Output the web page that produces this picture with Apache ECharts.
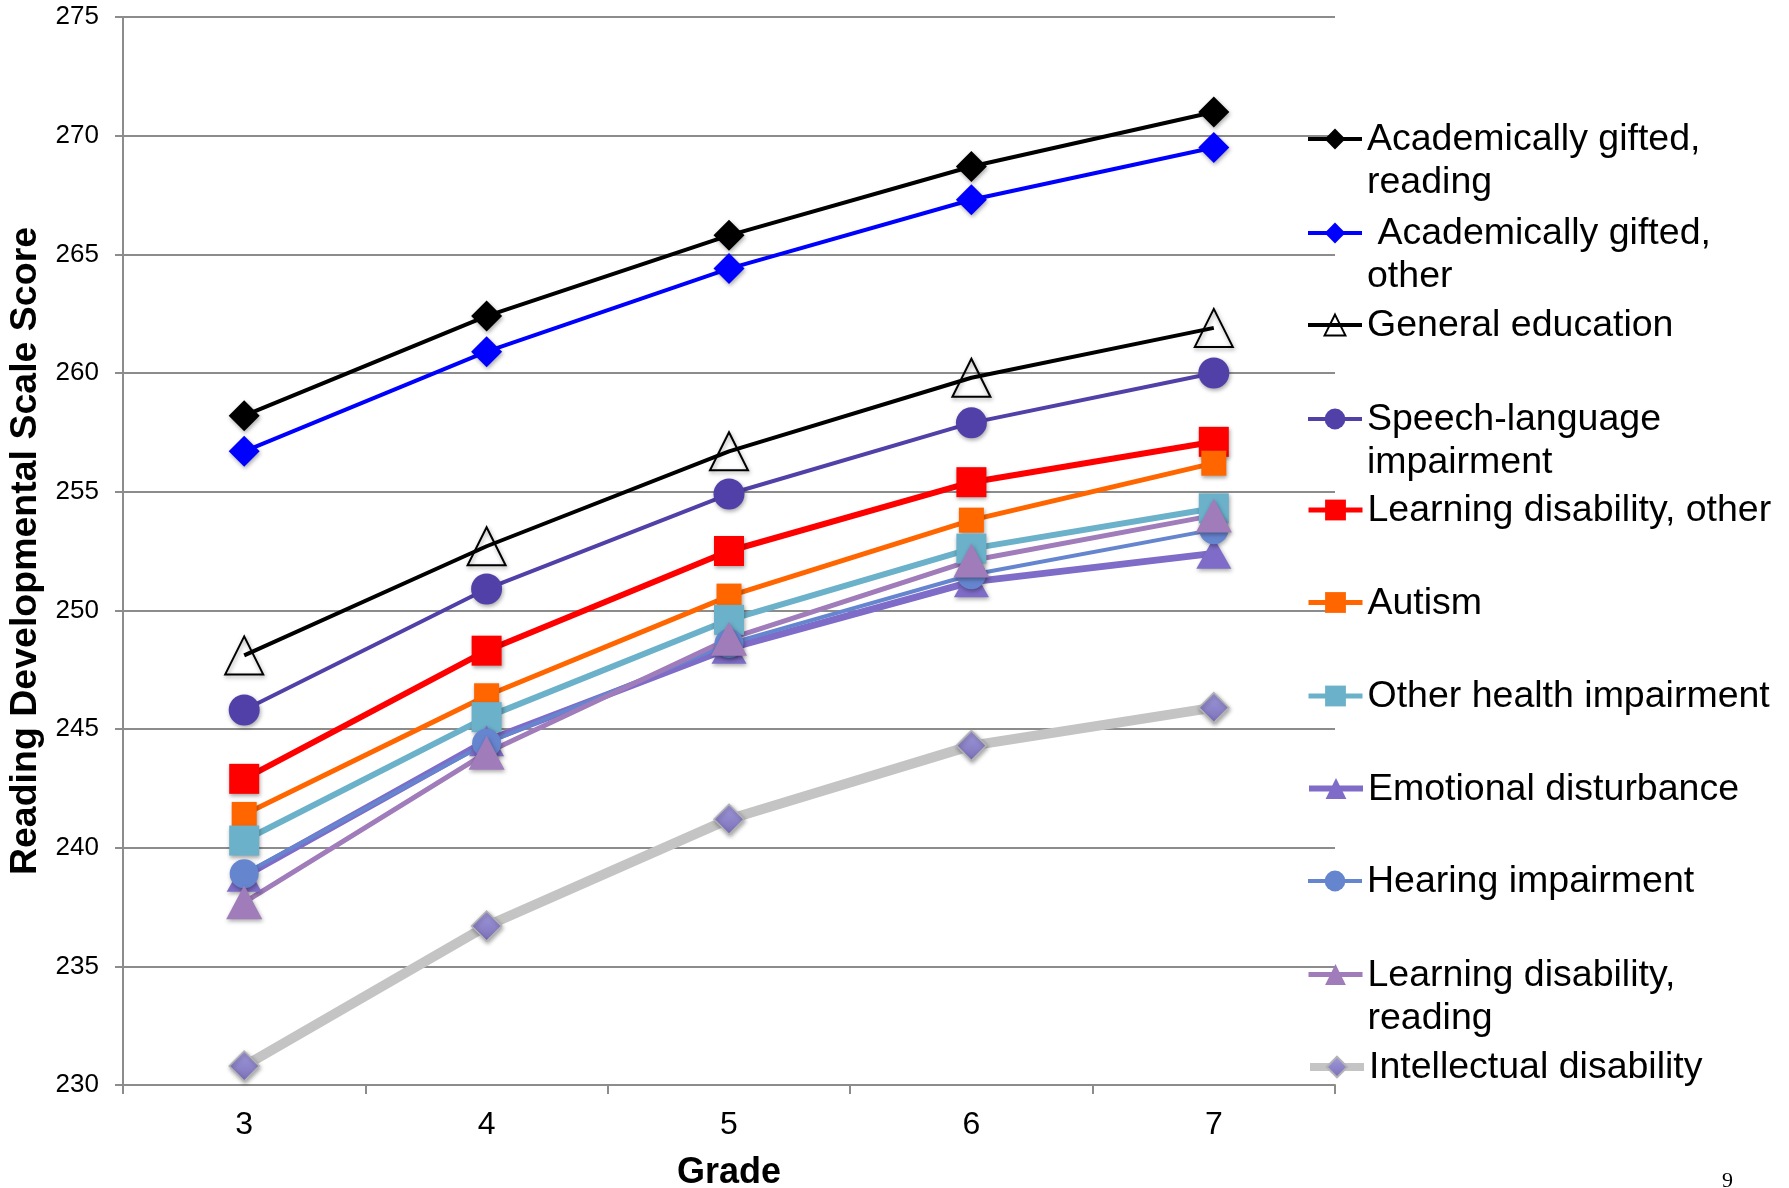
<!DOCTYPE html>
<html><head><meta charset="utf-8">
<script src="https://cdn.jsdelivr.net/npm/echarts@6/dist/echarts.min.js"></script>
<style>html,body{margin:0;padding:0;background:#fff}#c{width:1789px;height:1188px}</style>
</head><body><div id="c"></div>
<script>
// ---- data ----
const grades = ['3', '4', '5', '6', '7'];
const yTicks = [230, 235, 240, 245, 250, 255, 260, 265, 270, 275];
const seriesNames = [
  'Academically gifted,\nreading',
  ' Academically gifted,\nother',
  'General education',
  'Speech-language\nimpairment',
  'Learning disability, other',
  'Autism',
  'Other health impairment',
  'Emotional disturbance',
  'Hearing impairment',
  'Learning disability,\nreading',
  'Intellectual disability'
];
const giftedReading = [258.2, 262.4, 265.8, 268.7, 271.0];
const giftedOther   = [256.7, 260.9, 264.4, 267.3, 269.5];
const generalEd     = [248.1, 252.7, 256.7, 259.8, 261.9];
const speechLang    = [245.8, 250.9, 254.9, 257.9, 260.0];
const ldOther       = [242.9, 248.3, 252.5, 255.4, 257.1];
const autism        = [241.4, 246.4, 250.6, 253.8, 256.2];
const otherHealth   = [240.3, 245.5, 249.6, 252.6, 254.3];
const emotional     = [238.8, 244.5, 248.4, 251.2, 252.4];
const hearing       = [238.9, 244.4, 248.6, 251.5, 253.4];
const ldReading     = [237.7, 244.0, 248.8, 252.1, 254.0];
const intellectual  = [230.8, 236.7, 241.2, 244.3, 245.9];
const values = [giftedReading, giftedOther, generalEd, speechLang, ldOther, autism,
                otherHealth, emotional, hearing, ldReading, intellectual];

// ---- styles ----
const FONT = 'Liberation Sans, Arial, sans-serif';
const shadow = {shadowBlur: 4, shadowOffsetX: 1, shadowOffsetY: 2, shadowColor: 'rgba(0,0,0,0.35)'};
const styles = [
  {line: '#000000', w: 4, lw: 4, symbol: 'diamond', size: 31, fill: '#000000'},
  {line: '#0000FF', w: 4, lw: 4, symbol: 'diamond', size: 31, fill: '#0000FF'},
  {line: '#000000', w: 4, lw: 4, symbol: 'triangle', size: 38, fill: 'rgba(255,255,255,0)', border: '#000000', bw: 2},
  {line: '#5040A8', w: 4, lw: 4, symbol: 'circle', size: 31, fill: '#5040A8'},
  {line: '#FF0000', w: 6, lw: 5, symbol: 'rect', size: 30, fill: '#FF0000'},
  {line: '#FF6600', w: 5, lw: 5, symbol: 'rect', size: 25, fill: '#FF6600'},
  {line: '#6BB1C9', w: 6, lw: 5, symbol: 'rect', size: 30, fill: '#6BB1C9'},
  {line: '#7E6CC8', w: 7, lw: 6, symbol: 'triangle', size: [35, 31], fill: '#7E6CC8'},
  {line: '#6585CF', w: 4, lw: 4, symbol: 'circle', size: 29, fill: '#6585CF'},
  {line: '#A07CBB', w: 5, lw: 5, symbol: 'triangle', size: [36, 34], fill: '#A07CBB'},
  {line: '#C4C4C4', w: 10, lw: 8, symbol: 'diamond', size: 30,
   fill: new echarts.graphic.LinearGradient(0, 0, 0, 1, [{offset: 0, color: '#A29BDD'}, {offset: 1, color: '#7A70B8'}]),
   border: '#B4B4B4', bw: 1.5}
];
const legendY = [139, 233, 325, 419, 510, 602.5, 696, 788.5, 881, 974.5, 1067];

const chart = echarts.init(document.getElementById('c'), null, {renderer: 'canvas'});
const option = {
  animation: false,
  backgroundColor: '#ffffff',
  grid: {left: 123, right: 454, top: 17, bottom: 103, containLabel: false, outerBoundsMode: 'none'},
  xAxis: {
    type: 'category', data: grades, boundaryGap: true,
    name: 'Grade', nameLocation: 'middle', nameGap: 70,
    nameTextStyle: {fontFamily: FONT, fontWeight: 'bold', fontSize: 36, color: '#000'},
    axisLine: {lineStyle: {color: '#8C8C8C', width: 2}},
    axisTick: {show: true, alignWithLabel: false, interval: 0, length: 9, lineStyle: {color: '#8C8C8C', width: 2}},
    axisLabel: {fontFamily: FONT, fontSize: 32, color: '#000', margin: 24}
  },
  yAxis: {
    type: 'value', min: yTicks[0], max: yTicks[yTicks.length - 1], interval: 5,
    name: 'Reading Developmental Scale Score', nameLocation: 'middle', nameGap: 68, nameRotate: 90,
    nameTextStyle: {fontFamily: FONT, fontWeight: 'bold', fontSize: 37.5, color: '#000'},
    axisLine: {show: true, lineStyle: {color: '#8C8C8C', width: 2}},
    axisTick: {show: true, length: 8, lineStyle: {color: '#8C8C8C', width: 2}},
    axisLabel: {fontFamily: FONT, fontSize: 26, color: '#000', margin: 24},
    splitLine: {show: true, lineStyle: {color: '#8C8C8C', width: 2}}
  },
  legend: seriesNames.map((n, i) => ({
    data: [n], orient: 'vertical', left: 1306, top: legendY[i] - 48, padding: 0,
    itemWidth: 54, itemHeight: 26, itemGap: 0, selectedMode: false,
    lineStyle: {width: styles[i].lw},
    formatter: name => {
      const p = name.split('\n');
      return '{s| }\n{t|' + p[0] + '}\n{t|' + (p[1] || ' ') + '}';
    },
    textStyle: {
      rich: {
        s: {fontSize: 10, lineHeight: 45, fontFamily: FONT},
        t: {fontSize: 37.5, lineHeight: 43, color: '#000', fontFamily: FONT}
      }
    }
  })),
  graphic: [{
    type: 'text', left: 1722, top: 1170,
    style: {text: '9', font: '22px "Liberation Serif", serif', fill: '#000'}
  }],
  series: seriesNames.map((n, i) => {
    const s = styles[i];
    return {
      name: n, type: 'line', data: values[i],
      symbol: s.symbol, symbolSize: s.size, showSymbol: true,
      lineStyle: {color: s.line, width: s.w},
      itemStyle: Object.assign({color: s.fill, borderColor: s.border || s.line, borderWidth: s.bw || 0, opacity: 1}, shadow),
      emphasis: {disabled: true},
      z: 2
    };
  })
};
chart.setOption(option);
</script>
</body></html>
